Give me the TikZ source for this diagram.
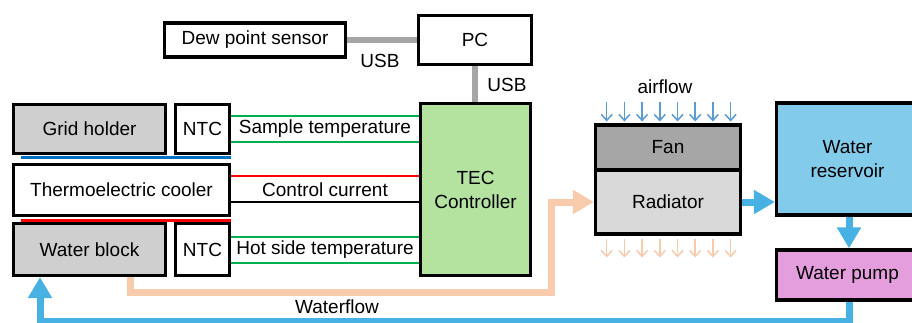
\documentclass[tikz,border=0pt]{standalone}
\usepackage{fontspec}
\setmainfont{Liberation Sans}
\usetikzlibrary{arrows.meta,calc}
\definecolor{gridgray}{HTML}{CFCFCF}
\definecolor{fangray}{HTML}{A6A6A6}
\definecolor{radgray}{HTML}{D9D9D9}
\definecolor{tecgreen}{HTML}{B4E3A0}
\definecolor{resblue}{HTML}{83CBEB}
\definecolor{pumppink}{HTML}{E59EDD}
\definecolor{sigred}{HTML}{FF0000}
\definecolor{siggreen}{HTML}{00B050}
\definecolor{sigblue}{HTML}{0070C0}
\definecolor{usbgray}{HTML}{A6A6A6}
\definecolor{peach}{HTML}{F8CBAD}
\definecolor{flowblue}{HTML}{47B1E3}
\definecolor{airblue}{HTML}{5B9BD5}
\begin{document}
\begin{tikzpicture}[x=1pt,y=-1pt,
  box/.style={draw=black, line width=3.3pt, inner sep=0pt, font=\fontsize{19}{24}\selectfont, align=center},
  lbl/.style={font=\fontsize{19}{24}\selectfont, inner sep=0pt},
  sig/.style={line width=2.8pt},
  usb/.style={draw=usbgray, line width=6pt},
  flow/.style={line width=7pt},
  bigtip/.style={-{Triangle[length=21pt,width=23pt]}},
  smallarrow/.style={line width=1.5pt, -{Straight Barb[length=6pt,width=11pt]}}
]
\useasboundingbox (0,0) rectangle (912,323);
\clip (0,0) rectangle (912,323);

% top row
\node[box, minimum width=181pt, minimum height=34pt] (dew) at (255,40) {Dew point sensor};
\node[box, minimum width=113pt, minimum height=49pt] (pc) at (475,40) {PC};

% left stack
\node[box, fill=gridgray, minimum width=152pt, minimum height=49pt] (grid) at (89.5,129) {Grid holder};
\node[box, minimum width=54pt, minimum height=49pt] (ntcA) at (202.5,129) {NTC};
\node[box, minimum width=216pt, minimum height=51pt] (tec) at (121.5,190) {Thermoelectric cooler};
\node[box, fill=gridgray, minimum width=152pt, minimum height=52pt] (wb) at (89.5,249.5) {Water block};
\node[box, minimum width=54pt, minimum height=52pt] (ntcB) at (202.5,249.5) {NTC};

% controller
\node[box, fill=tecgreen, minimum width=110pt, minimum height=172pt] (ctrl) at (475.5,189.5) {TEC\\Controller};

% radiator / fan
\node[box, fill=fangray, minimum width=145pt, minimum height=45pt] (fan) at (668,147.5) {Fan};
\node[box, fill=radgray, minimum width=145pt, minimum height=64pt] (rad) at (668,202) {Radiator};

% reservoir / pump
\node[box, fill=resblue, minimum width=142pt, minimum height=112pt] (res) at (847.5,159) {Water\\reservoir};
\node[box, fill=pumppink, minimum width=142pt, minimum height=50pt] (pump) at (847.5,275) {Water pump};

% contact strips
\coordinate (bl1) at ([xshift=9pt,yshift=5pt]tec.north west);
\coordinate (bl2) at ([yshift=5pt]tec.north east);
\draw[sigblue, line width=3pt] (bl1) -- (bl2);
\coordinate (rd1) at ([xshift=9pt,yshift=-3.5pt]tec.south west);
\coordinate (rd2) at ([yshift=-3.5pt]tec.south east);
\draw[sigred, line width=3pt] (rd1) -- (rd2);

% USB
\draw[usb] (dew.east) -- (pc.west);
\node[lbl] (usb1) at (380,61) {USB};
\draw[usb] (pc.south) -- (pc.south |- ctrl.north);
\node[lbl] (usb2) at (507,85) {USB};

% signal lines
\draw[sig, siggreen] ([yshift=13pt]ntcA.east) -- ([yshift=13pt]ntcA.east -| ctrl.west);
\draw[sig, siggreen] ([yshift=-13pt]ntcA.east) -- ([yshift=-13pt]ntcA.east -| ctrl.west);
\node[lbl] (lsamp) at ($ (ntcA.east)!0.5!(ntcA.east -| ctrl.west) $) {Sample temperature};
\draw[sig, sigred] ([yshift=14pt]tec.east) -- ([yshift=14pt]tec.east -| ctrl.west);
\draw[sig, black] ([yshift=-12pt]tec.east) -- ([yshift=-12pt]tec.east -| ctrl.west);
\node[lbl] (lctrl) at ($ (tec.east)!0.5!(tec.east -| ctrl.west) $) {Control current};
\draw[sig, siggreen] ([yshift=12.5pt]ntcB.east) -- ([yshift=12.5pt]ntcB.east -| ctrl.west);
\draw[sig, siggreen] ([yshift=-13.5pt]ntcB.east) -- ([yshift=-13.5pt]ntcB.east -| ctrl.west);
\node[lbl] (lhot) at ($ (ntcB.east)!0.5!(ntcB.east -| ctrl.west) $) {Hot side temperature};

% airflow
\node[lbl] (air) at (665,87) {airflow};
\foreach \i in {0,...,7} {
  \draw[smallarrow, airblue] (606.7+17.7*\i,102) -- (606.7+17.7*\i,121.5);
  \draw[smallarrow, peach] (606.7+17.7*\i,238.5) -- (606.7+17.7*\i,257.5);
}

% waterflow
\coordinate (wbout) at ([xshift=40.5pt]wb.south);
\coordinate (p1) at (551,292);
\draw[flow, peach, bigtip] (wbout) |- (p1) |- (rad.west);
\draw[flow, flowblue, bigtip] (rad.east |- 0,202) -- (res.west |- 0,202);
\draw[flow, flowblue, bigtip] (res.south -| 849,0) -- (pump.north -| 849,0);
\coordinate (q1) at (849,321);
\coordinate (wbin) at ([xshift=-49.5pt]wb.south);
\draw[flow, flowblue, bigtip] (pump.south -| q1) -- (q1) -| (wbin);
\node[lbl] (wf) at (337,306.5) {Waterflow};
\end{tikzpicture}
\end{document}
